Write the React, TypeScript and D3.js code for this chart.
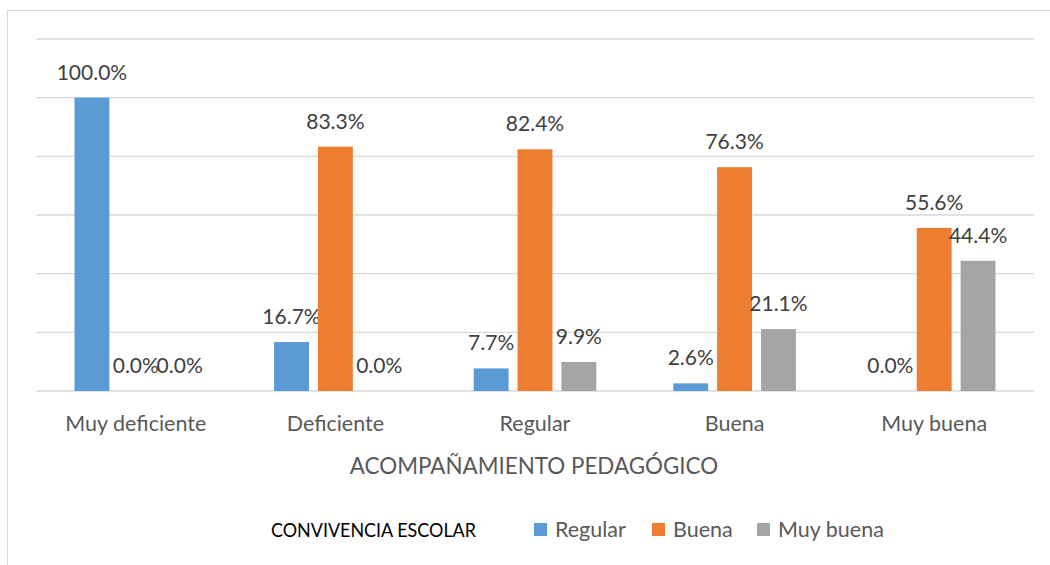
import React from 'react';
import * as d3 from 'd3';

// Acompañamiento pedagógico vs convivencia escolar
const categories = ['Muy deficiente', 'Deficiente', 'Regular', 'Buena', 'Muy buena'];
const seriesNames = ['Regular', 'Buena', 'Muy buena'];
const regular = [100.0, 16.7, 7.7, 2.6, 0.0];
const buena = [0.0, 83.3, 82.4, 76.3, 55.6];
const muyBuena = [0.0, 0.0, 9.9, 21.1, 44.4];
const yTicks = [0, 20, 40, 60, 80, 100, 120];
const colors = ['#5B9BD5', '#ED7D31', '#A5A5A5'];

const FONT = 'Lato, "Open Sans", sans-serif';

export default function App() {
  const width = 1050;
  const height = 565;
  const values = [regular, buena, muyBuena];

  const x = d3.scaleBand<string>().domain(categories).range([36, 1034]);
  const inner = d3.scaleBand<string>().domain(seriesNames)
    .range([38.5, x.bandwidth() - 38.5]).paddingInner(9 / 44);
  const y = d3.scaleLinear().domain([0, 120]).range([391, 39]);
  const fmt = (v: number) => `${d3.format('.1f')(v)}%`;

  const legendItems = [
    { name: seriesNames[0], x: 534, color: colors[0] },
    { name: seriesNames[1], x: 652, color: colors[1] },
    { name: seriesNames[2], x: 757, color: colors[2] },
  ];

  return (
    <svg width={width} height={height} style={{ position: 'absolute', left: 0, top: 0, background: '#fff' }}
      fontFamily={FONT}>
      <rect x={7.5} y={10.5} width={1100} height={600} fill="#fff" stroke="#D9D9D9" />
      {yTicks.map(t => (
        <line key={t} x1={36} x2={1034} y1={y(t)} y2={y(t)} stroke="#D9D9D9" strokeWidth={1.3} />
      ))}
      {categories.map((c, ci) => (
        <g key={c} transform={`translate(${x(c)},0)`}>
          {seriesNames.map((s, si) => {
            const v = values[si][ci];
            const bx = inner(s) as number;
            return (
              <g key={s}>
                <rect x={bx} width={inner.bandwidth()} y={y(v)} height={y(0) - y(v)} fill={colors[si]} />
                <text x={bx + inner.bandwidth() / 2} y={y(v) - 18} textAnchor="middle"
                  fontSize={21} fill="#404040">{fmt(v)}</text>
              </g>
            );
          })}
          <text x={x.bandwidth() / 2} y={431} textAnchor="middle" fontSize={21.5} fill="#595959">{c}</text>
        </g>
      ))}
      <text x={534} y={474} textAnchor="middle" fontSize={22.4} fill="#595959">ACOMPAÑAMIENTO PEDAGÓGICO</text>
      <text x={271} y={537} fontSize={18.5} fill="#000" textLength={205} lengthAdjust="spacingAndGlyphs">CONVIVENCIA ESCOLAR</text>
      {legendItems.map(l => (
        <g key={l.name}>
          <rect x={l.x} y={523} width={13} height={13} fill={l.color} />
          <text x={l.x + 21} y={537} fontSize={21.5} fill="#595959">{l.name}</text>
        </g>
      ))}
    </svg>
  );
}
